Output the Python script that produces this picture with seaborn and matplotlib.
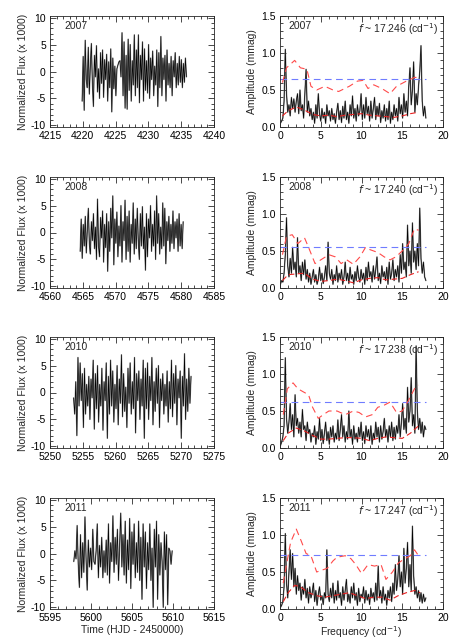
import numpy as np
import pandas as pd
import matplotlib
matplotlib.use('Agg')
import matplotlib.pyplot as plt
from matplotlib.ticker import MultipleLocator
import seaborn as sns

# --- Data ---
years = ['2007', '2008', '2010', '2011']
freq_peaks = ['17.246', '17.240', '17.238', '17.247']

# light curve time spans (HJD - 2450000) and x-axis limits
lc_span = [(4219.9, 4235.8), (4564.6, 4580.3), (5253.6, 5271.5), (5597.9, 5609.9)]
lc_xlim = [(4215, 4240), (4560, 4585), (5250, 5275), (5595, 5615)]

lc2007 = [-5.5, 2.8, -7.2, 5.8, -1.5, -3.0, 4.5, -4.2, 1.0, 5.2, -2.0, -6.5, 3.0, -1.0, 4.8, -3.8,
          0.5, -5.0, 3.5, -2.2, 4.0, -4.8, 2.2, -1.5, 3.2, -5.5, 1.8, -3.0, 4.2, -7.5, 2.5, -3.2,
          1.0, -4.5, 0.5, 1.2, 1.8, 2.0, -1.0, 7.2, -4.5, 5.5, -6.8, 3.0, -7.0, 6.0, -3.5, 5.0,
          -5.5, 2.0, -2.5, 6.8, -4.5, 4.0, -3.0, 6.8, -5.8, 3.0, -1.5, 5.5, -5.5, 4.2, -3.5, 2.0,
          -4.0, 5.0, -5.0, 2.5, -1.5, 3.8, -4.5, 1.0, -2.5, 4.0, -6.5, 3.5, -3.0, 6.5, -4.5, 2.5,
          -1.5, 3.0, -5.5, 4.0, -2.5, 1.5, -3.0, 2.8, -4.5, 2.0, -1.0, 3.5, -3.0, 1.5, -2.5, 2.8,
          -2.0, 2.2, -3.0, 1.5, -2.0, 2.5, -1.0]
lc2008 = [-3.5, 2.5, -4.8, 1.5, -2.5, 3.0, -3.8, 0.5, 4.5, -2.0, -4.0, 2.0, -1.5, 3.5, -3.0, 1.0,
          -5.0, 6.2, -2.5, -4.5, 2.8, -1.0, 4.0, -5.5, 1.5, -2.8, 3.5, -7.2, 2.0, -3.5, 4.5, -1.0,
          6.8, -6.0, 2.5, -2.0, 3.8, -4.5, 1.2, -2.5, 5.0, -5.5, 2.0, -1.5, 6.0, -5.0, 3.0, -3.5,
          4.0, -5.5, 1.5, -2.0, 5.5, -4.0, 2.5, -3.0, 4.5, -1.5, -5.0, 3.5, -2.5, 4.8, -3.0, 1.0,
          -7.0, 3.5, -4.5, 2.5, -1.0, 5.0, -3.5, 1.5, -2.5, 4.0, -5.0, 6.8, -2.0, 3.5, -4.0, 1.0,
          -3.0, 5.5, -2.5, 4.5, -5.8, 2.0, -1.5, 3.0, -3.5, 1.5, -2.0, 4.0, -3.0, 2.0, -1.0, 2.5,
          -3.5, 3.5, -2.5, 1.5, -3.0, 2.0]
lc2010 = [-1.0, -4.0, 2.0, -8.0, 6.5, -2.5, 5.5, -1.5, 3.5, -6.5, 4.5, -4.0, 1.5, -2.5, 3.0, -5.0,
          2.5, -1.0, 6.0, -6.8, 3.5, -3.0, 5.0, -5.5, 1.5, -2.5, 4.5, -7.0, 2.0, -1.5, 5.5, -8.5,
          3.0, -4.0, 6.0, -2.5, 4.0, -5.5, 1.5, -3.0, 5.0, -6.0, 2.5, -2.0, 7.0, -4.5, 3.5, -3.5,
          1.0, -6.5, 4.5, -2.0, 5.5, -4.0, 2.0, -3.0, 6.5, -7.5, 3.5, -1.5, 4.0, -5.0, 2.5, -2.5,
          6.0, -8.5, 4.5, -3.0, 5.5, -5.0, 3.0, -1.5, 6.5, -6.0, 2.0, -3.5, 4.5, -2.0, 5.0, -6.5,
          2.5, -1.5, 3.5, -4.0, 1.5, -2.5, 4.0, -5.5, 2.0, -3.0, 6.0, -4.5, 3.5, -2.0, 5.0, -6.0,
          2.5, -1.0, 4.0, -8.5, 3.0, -2.5, 7.2, -5.0, 2.5, -3.5, 4.5, -2.0, 3.0]
lc2011 = [-1.5, 0.5, -1.0, 5.2, -2.0, -6.3, 3.5, -4.5, 2.0, -3.5, 6.8, -1.0, -6.8, 2.5, -2.5, 1.0,
          -3.0, 4.5, -1.5, -2.0, 0.5, 5.5, -4.5, 1.5, -2.5, 3.0, -4.5, 0.5, -3.5, 2.5, -4.0, 5.5,
          -5.5, 2.0, -1.5, 7.0, -3.5, 3.0, -2.0, 4.5, -5.0, 1.5, 7.5, -2.5, 3.5, -4.0, 6.0, -5.5,
          2.5, -3.0, 6.5, -6.5, 4.0, -2.0, 5.5, -4.5, 2.0, -3.5, 6.0, -5.0, 3.0, -8.5, 5.5, -2.5,
          4.0, -6.5, 2.0, -3.0, 5.5, -5.0, 1.0, -10.0, 4.5, -2.5, 6.0, -8.5, 3.5, -4.0, 2.0, -1.5,
          -10.0, 4.0, -3.0, 3.5, -9.5, 1.0, 0.5, -2.0, 0.5]
light_curves = [lc2007, lc2008, lc2010, lc2011]

# amplitude spectra, sampled from 0.05 to 17.9 c/d
freq_span = (0.05, 17.9)
amp2007 = [0.05, 0.08, 0.12, 0.35, 1.05, 0.45, 0.2, 0.3, 0.15, 0.4, 0.25, 0.38, 0.2, 0.35, 0.45, 0.18,
           0.5, 0.22, 0.3, 0.12, 0.45, 0.78, 0.2, 0.35, 0.15, 0.25, 0.1, 0.2, 0.05, 0.3, 0.12, 0.45,
           0.18, 0.08, 0.25, 0.12, 0.2, 0.05, 0.3, 0.15, 0.22, 0.08, 0.25, 0.1, 0.18, 0.05, 0.2, 0.32,
           0.1, 0.22, 0.06, 0.28, 0.12, 0.35, 0.1, 0.2, 0.05, 0.3, 0.15, 0.42, 0.12, 0.25, 0.08, 0.3,
           0.15, 0.22, 0.45, 0.1, 0.3, 0.12, 0.4, 0.18, 0.28, 0.08, 0.35, 0.12, 0.25, 0.4, 0.1, 0.28,
           0.15, 0.32, 0.06, 0.22, 0.12, 0.3, 0.08, 0.25, 0.1, 0.35, 0.05, 0.2, 0.1, 0.3, 0.15, 0.25,
           0.08, 0.4, 0.18, 0.3, 0.12, 0.45, 0.2, 0.35, 0.15, 0.55, 0.8, 0.3, 0.5, 0.88, 0.2, 0.45,
           0.3, 0.55, 0.75, 1.1, 0.35, 0.15, 0.28, 0.12]
amp2008 = [0.05, 0.1, 0.08, 0.2, 0.45, 0.95, 0.3, 0.15, 0.4, 0.2, 0.55, 0.25, 0.35, 0.15, 0.68, 0.2,
           0.3, 0.1, 0.35, 0.18, 0.38, 0.12, 0.25, 0.08, 0.2, 0.05, 0.15, 0.25, 0.08, 0.18, 0.05, 0.12,
           0.28, 0.1, 0.2, 0.06, 0.15, 0.3, 0.1, 0.62, 0.2, 0.12, 0.25, 0.05, 0.18, 0.1, 0.3, 0.08,
           0.2, 0.12, 0.25, 0.05, 0.15, 0.35, 0.1, 0.2, 0.06, 0.28, 0.12, 0.18, 0.05, 0.22, 0.1, 0.3,
           0.15, 0.08, 0.25, 0.12, 0.2, 0.05, 0.28, 0.1, 0.35, 0.15, 0.22, 0.08, 0.3, 0.12, 0.25, 0.42,
           0.1, 0.2, 0.06, 0.3, 0.15, 0.22, 0.1, 0.28, 0.05, 0.35, 0.12, 0.2, 0.38, 0.1, 0.25, 0.15,
           0.3, 0.08, 0.45, 0.2, 0.6, 0.25, 0.35, 0.15, 0.85, 0.3, 0.5, 0.2, 0.88, 0.35, 0.5, 0.25,
           0.6, 0.3, 1.08, 0.4, 0.2, 0.35, 0.15, 0.1]
amp2010 = [0.03, 0.08, 0.15, 0.3, 1.22, 0.4, 0.2, 0.35, 0.6, 0.25, 0.45, 0.15, 0.72, 0.3, 0.4, 0.2,
           0.35, 0.15, 0.52, 0.25, 0.3, 0.1, 0.35, 0.2, 0.25, 0.08, 0.2, 0.15, 0.3, 0.05, 0.22, 0.12,
           0.4, 0.1, 0.25, 0.06, 0.2, 0.35, 0.1, 0.22, 0.05, 0.28, 0.15, 0.3, 0.08, 0.2, 0.12, 0.38,
           0.1, 0.25, 0.45, 0.15, 0.3, 0.08, 0.22, 0.12, 0.5, 0.15, 0.25, 0.05, 0.3, 0.12, 0.2, 0.08,
           0.28, 0.15, 0.35, 0.1, 0.22, 0.06, 0.3, 0.15, 0.25, 0.1, 0.3, 0.05, 0.2, 0.12, 0.35, 0.15,
           0.28, 0.08, 0.3, 0.12, 0.22, 0.4, 0.15, 0.25, 0.08, 0.3, 0.15, 0.35, 0.1, 0.28, 0.12, 0.3,
           0.2, 0.45, 0.15, 0.35, 0.6, 0.25, 0.4, 0.2, 0.82, 0.35, 0.5, 0.95, 0.3, 0.45, 0.2, 1.38,
           0.5, 0.25, 0.4, 0.2, 0.35, 0.15, 0.3, 0.25]
amp2011 = [0.02, 0.05, 0.1, 0.3, 1.02, 0.35, 0.15, 0.5, 0.8, 0.4, 0.75, 0.3, 0.55, 0.2, 0.45, 0.25,
           0.35, 0.12, 0.3, 0.2, 0.4, 0.15, 0.28, 0.08, 0.3, 0.15, 0.22, 0.35, 0.1, 0.25, 0.05, 0.2,
           0.3, 0.12, 0.18, 0.06, 0.22, 0.15, 0.8, 0.2, 0.1, 0.28, 0.15, 0.35, 0.08, 0.25, 0.12, 0.38,
           0.15, 0.22, 0.05, 0.3, 0.12, 0.25, 0.4, 0.1, 0.2, 0.08, 0.3, 0.15, 0.35, 0.12, 0.22, 0.05,
           0.28, 0.1, 0.2, 0.15, 0.3, 0.08, 0.25, 0.12, 0.2, 0.06, 0.28, 0.15, 0.22, 0.1, 0.35, 0.12,
           0.58, 0.15, 0.25, 0.08, 0.3, 0.12, 0.2, 0.05, 0.25, 0.15, 0.3, 0.1, 0.35, 0.2, 0.6, 0.25,
           0.4, 0.72, 0.3, 0.5, 0.2, 0.82, 0.35, 0.55, 0.9, 0.3, 0.6, 0.25, 1.12, 0.45, 0.2, 0.3,
           0.15, 0.25, 0.1, 0.22, 0.08, 0.2, 0.1, 0.15]
spectra = [amp2007, amp2008, amp2010, amp2011]

# significance threshold (red upper), mean noise (red lower), blue level
up_f = [[0.3, 0.8, 1.8, 2.5, 3.3, 3.8, 4.5, 5.5, 6.5, 7.2, 8.5, 9.5, 10.2, 10.8, 11.5, 12.5, 13.5, 14.3, 15.5, 16.5, 17.2],
        [0.3, 0.8, 1.5, 2.2, 3.0, 3.5, 4.3, 5.0, 6.0, 6.8, 7.5, 8.2, 9.0, 9.8, 10.5, 11.0, 12.0, 12.8, 13.5, 14.2, 15.0, 15.8, 16.5, 17.0],
        [0.4, 0.9, 1.6, 2.2, 3.0, 3.5, 4.0, 4.7, 5.3, 6.0, 7.0, 8.0, 9.0, 9.7, 10.5, 11.3, 12.0, 12.8, 13.5, 14.3, 15.0, 15.8, 16.5, 17.0],
        [0.4, 0.8, 1.3, 2.0, 2.6, 3.2, 3.8, 4.5, 5.0, 5.8, 6.5, 7.0, 8.0, 8.7, 9.3, 10.0, 10.8, 11.6, 12.4, 13.0, 13.8, 14.5, 15.3, 16.0, 16.5, 17.0]]
up_a = [[0.6, 0.8, 0.9, 0.8, 0.78, 0.55, 0.5, 0.55, 0.5, 0.48, 0.55, 0.62, 0.63, 0.52, 0.57, 0.52, 0.45, 0.55, 0.62, 0.67, 0.67],
        [0.45, 0.7, 0.72, 0.6, 0.68, 0.55, 0.33, 0.38, 0.45, 0.42, 0.33, 0.38, 0.32, 0.42, 0.55, 0.52, 0.48, 0.42, 0.38, 0.42, 0.5, 0.6, 0.8, 0.78],
        [0.45, 0.8, 0.88, 0.8, 0.75, 0.72, 0.55, 0.4, 0.45, 0.5, 0.5, 0.45, 0.5, 0.48, 0.42, 0.45, 0.55, 0.58, 0.62, 0.48, 0.5, 0.65, 0.8, 0.85],
        [0.35, 0.6, 0.9, 1.08, 0.92, 0.75, 0.72, 0.5, 0.52, 0.55, 0.65, 0.7, 0.72, 0.68, 0.6, 0.48, 0.6, 0.58, 0.6, 0.4, 0.5, 0.62, 0.68, 0.72, 0.8, 0.72]]
lo_f = [[0.3, 1, 2, 3, 4, 5, 6, 7, 8, 9, 10, 11, 12, 13, 14, 15, 16, 17],
        [0.3, 1, 2, 3, 4, 5, 6, 7, 8, 9, 10, 11, 12, 13, 14, 15, 16, 17],
        [0.4, 1, 2, 3, 4, 5, 6, 7, 8, 9, 10, 11, 12, 13, 14, 15, 16, 17],
        [0.4, 1, 1.8, 2.5, 3.5, 4.5, 5.5, 6.5, 7.5, 8.5, 9.5, 10.5, 11.5, 12.5, 13.5, 14.5, 15.5, 16.5, 17.2]]
lo_a = [[0.15, 0.22, 0.27, 0.23, 0.17, 0.15, 0.16, 0.14, 0.16, 0.17, 0.18, 0.16, 0.15, 0.14, 0.13, 0.15, 0.18, 0.2],
        [0.1, 0.18, 0.19, 0.2, 0.12, 0.09, 0.1, 0.12, 0.1, 0.07, 0.11, 0.13, 0.14, 0.11, 0.12, 0.13, 0.18, 0.22],
        [0.1, 0.2, 0.27, 0.23, 0.17, 0.12, 0.12, 0.13, 0.14, 0.14, 0.13, 0.1, 0.13, 0.15, 0.14, 0.13, 0.2, 0.3],
        [0.1, 0.22, 0.32, 0.3, 0.22, 0.18, 0.16, 0.18, 0.2, 0.22, 0.18, 0.14, 0.16, 0.16, 0.12, 0.18, 0.22, 0.25, 0.22]]
blue_level = [0.65, 0.55, 0.62, 0.73]

# --- Style ---
sns.set_style('ticks')
plt.rcParams['font.family'] = ['Liberation Sans', 'DejaVu Sans']
plt.rcParams['font.size'] = 7.5
plt.rcParams['axes.unicode_minus'] = False
plt.rcParams['axes.linewidth'] = 0.6

fig = plt.figure(figsize=(4.58, 6.41), dpi=100)
W, H = 458, 641
row_top = [16, 177, 337, 498]
row_h = 111
FS = 7.5


def idl_axes(ax, xmaj, xmin, ymaj, ymin):
    ax.xaxis.set_major_locator(MultipleLocator(xmaj))
    ax.xaxis.set_minor_locator(MultipleLocator(xmin))
    ax.yaxis.set_major_locator(MultipleLocator(ymaj))
    ax.yaxis.set_minor_locator(MultipleLocator(ymin))
    ax.tick_params(which='both', direction='in', top=True, right=True, width=0.5,
                   labelsize=FS, colors='black')
    ax.tick_params(which='major', length=4, pad=3)
    ax.tick_params(which='minor', length=2)
    for s in ax.spines.values():
        s.set_visible(True)
        s.set_linewidth(0.6)


def dashed(ax, x, y, color, dash, lw=0.8):
    sns.lineplot(x=x, y=y, ax=ax, color=color, lw=lw, estimator=None, sort=False, legend=False)
    ax.lines[-1].set_dashes(dash)


for i, yr in enumerate(years):
    bottom = 1 - (row_top[i] + row_h) / H

    # light curve
    ax = fig.add_axes([50 / W, bottom, 164 / W, row_h / H])
    flux = np.array(light_curves[i])
    t = np.linspace(lc_span[i][0], lc_span[i][1], len(flux))
    lc = pd.DataFrame({'t': t, 'flux': flux})
    sns.lineplot(data=lc, x='t', y='flux', ax=ax, color='0.55', lw=1.0,
                 estimator=None, sort=False, legend=False)
    sns.lineplot(data=lc, x='t', y='flux', ax=ax, color='black', lw=0.45,
                 estimator=None, sort=False, legend=False)
    ax.set_xlim(*lc_xlim[i])
    ax.set_ylim(-10.3, 10.3)
    idl_axes(ax, 5, 1, 5, 1)
    ax.set_ylabel('Normalized Flux (x 1000)', fontsize=FS, labelpad=2)
    ax.set_xlabel('Time (HJD - 2450000)' if i == 3 else '', fontsize=FS, labelpad=1)
    ax.text(0.085, 0.955, yr, transform=ax.transAxes, ha='left', va='top', fontsize=FS)

    # amplitude spectrum
    ax2 = fig.add_axes([280 / W, bottom, 163 / W, row_h / H])
    amp = np.array(spectra[i])
    f = np.linspace(freq_span[0], freq_span[1], len(amp))
    sp = pd.DataFrame({'f': f, 'amp': amp})
    sns.lineplot(data=sp, x='f', y='amp', ax=ax2, color='0.5', lw=1.0,
                 estimator=None, sort=False, legend=False)
    sns.lineplot(data=sp, x='f', y='amp', ax=ax2, color='black', lw=0.45,
                 estimator=None, sort=False, legend=False)
    dashed(ax2, [0.0, freq_span[1]], [blue_level[i], blue_level[i]], '#6f7cff', (6, 4))
    dashed(ax2, up_f[i], up_a[i], '#ff4a4a', (6, 4))
    dashed(ax2, lo_f[i], lo_a[i], '#e82020', (5, 3))
    ax2.set_xlim(0, 20)
    ax2.set_ylim(0, 1.5)
    idl_axes(ax2, 5, 1, 0.5, 0.1)
    ax2.set_ylabel('Amplitude (mmag)', fontsize=FS, labelpad=3)
    ax2.set_xlabel('Frequency (cd$^{-1}$)' if i == 3 else '', fontsize=FS, labelpad=1)
    ax2.text(0.05, 0.955, yr, transform=ax2.transAxes, ha='left', va='top', fontsize=FS)
    ax2.text(0.97, 0.955, r'$f$ ~ ' + freq_peaks[i] + ' (cd$^{-1}$)', transform=ax2.transAxes,
             ha='right', va='top', fontsize=FS)

fig.savefig('out.png', dpi=100)
